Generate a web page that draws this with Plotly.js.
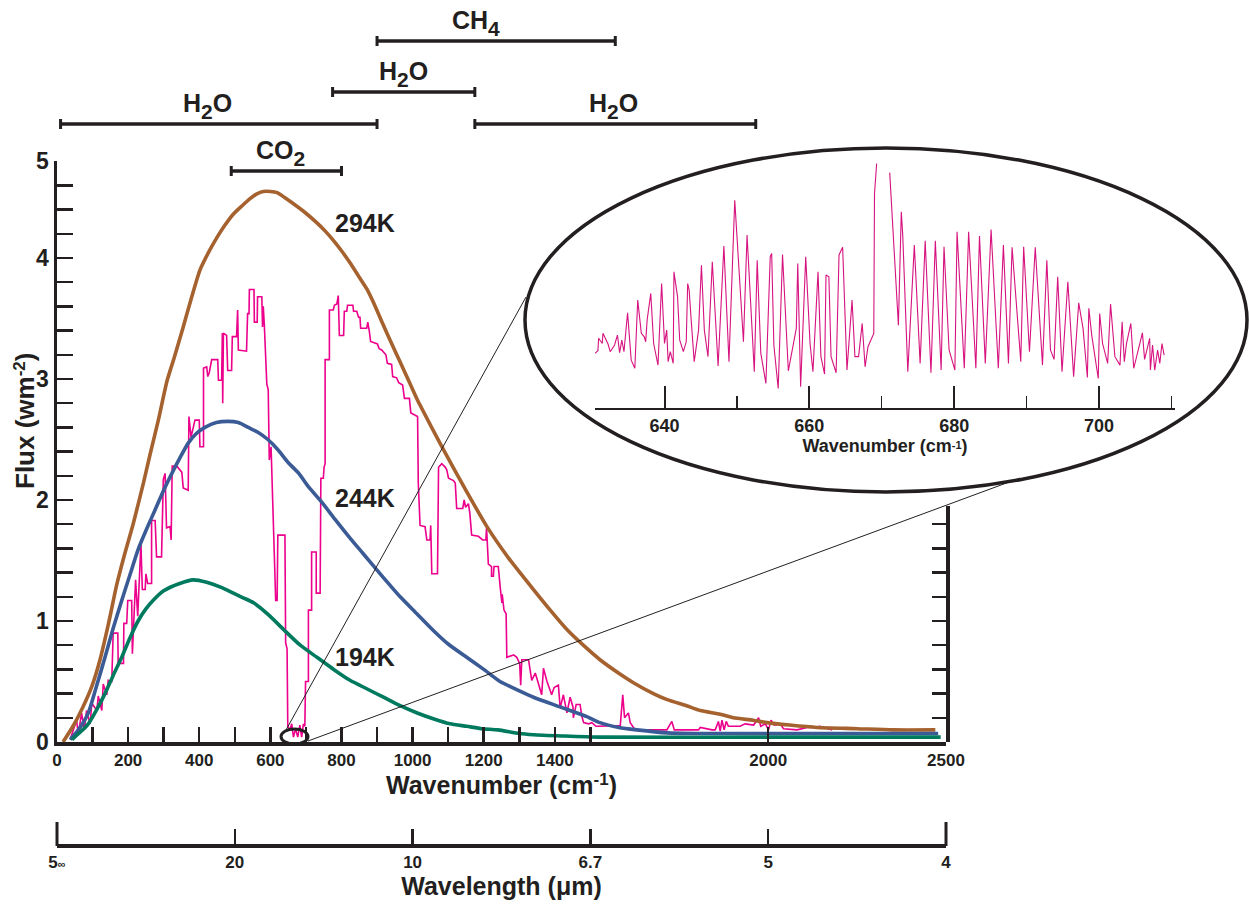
<!DOCTYPE html>
<html>
<head>
<meta charset="utf-8">
<script src="https://cdn.plot.ly/plotly-3.0.1.min.js"></script>
<style>html,body{margin:0;padding:0;background:#fff}#chart{width:1249px;height:905px}</style>
</head>
<body>
<div id="chart"></div>
<script>
// ---------------- DATA ----------------
// Planck curves, flux vs wavenumber (cm-1)
const planck294_wn = [17,45,73,98,121,145,168,190,214,243,262,285,309,330,354,378,402,425,450,472,495,520,543,562,580,600,619,640,664,700,731,755,776,800,824,848,872,895,917,940,965,990,1013,1050,1086,1150,1209,1270,1340,1390,1434,1480,1527,1584,1621,1677,1716,1770,1809,1865,1902,1958,1997,2060,2137,2250,2350,2470];
const planck294_flux = [0,0.13,0.29,0.46,0.68,0.98,1.3,1.55,1.8,2.14,2.38,2.66,2.98,3.18,3.42,3.67,3.9,4.04,4.17,4.27,4.36,4.43,4.49,4.53,4.55,4.55,4.54,4.5,4.45,4.37,4.29,4.22,4.15,4.06,3.96,3.85,3.74,3.6,3.45,3.3,3.14,2.98,2.83,2.62,2.42,2.08,1.78,1.52,1.26,1.08,0.93,0.8,0.68,0.56,0.49,0.4,0.35,0.3,0.26,0.23,0.2,0.18,0.16,0.14,0.12,0.11,0.1,0.1];

const planck244_wn = [37,60,88,110,135,158,182,205,228,252,276,300,323,346,369,392,416,448,481,510,538,565,593,620,650,680,707,745,782,820,860,900,935,965,1012,1059,1100,1152,1200,1246,1302,1340,1415,1490,1527,1580,1631,1716,1800,2000,2200,2478];
const planck244_flux = [0.02,0.1,0.24,0.45,0.70,0.94,1.17,1.38,1.59,1.76,1.92,2.08,2.22,2.35,2.47,2.55,2.6,2.64,2.65,2.64,2.6,2.56,2.5,2.42,2.31,2.22,2.11,1.98,1.84,1.7,1.56,1.42,1.3,1.2,1.06,0.92,0.81,0.7,0.6,0.5,0.42,0.37,0.29,0.21,0.16,0.12,0.1,0.075,0.07,0.07,0.07,0.07];

const planck194_wn = [42,65,88,112,135,158,182,205,228,250,270,300,345,383,421,460,496,525,553,595,637,684,731,778,824,871,918,965,1013,1060,1105,1152,1195,1240,1300,1340,1420,1527,2000,2485];
const planck194_flux = [0.02,0.08,0.15,0.27,0.40,0.55,0.70,0.86,1.0,1.1,1.17,1.25,1.31,1.34,1.32,1.28,1.23,1.19,1.15,1.05,0.93,0.8,0.7,0.6,0.51,0.44,0.37,0.3,0.24,0.19,0.15,0.13,0.11,0.1,0.07,0.06,0.05,0.04,0.04,0.04];

// Measured outgoing spectrum [wavenumber, flux]
const spectrum = [[37,0.02],[55,0.18],[60,0.06],[69,0.24],[77,0.10],[83,0.26],[93,0.15],[98,0.32],[112,0.26],[116,0.38],[126,0.26],[130,0.48],[140,0.39],[144,0.51],[154,0.50],[158,0.90],[171,0.90],[172,0.65],[187,0.65],[188,0.98],[196,0.98],[199,1.17],[210,1.17],[212,0.73],[221,1.34],[227,1.04],[236,1.64],[240,1.26],[248,1.26],[250,1.39],[255,1.31],[266,1.31],[266,1.83],[276,1.83],[280,1.53],[294,1.53],[299,2.17],[304,2.22],[308,1.77],[318,1.78],[321,1.67],[324,2.28],[337,2.28],[351,2.23],[355,2.10],[369,2.08],[371,2.69],[377,2.52],[388,2.66],[400,2.66],[402,2.44],[412,2.44],[412,3.09],[421,3.10],[424,3.02],[428,3.05],[435,3.16],[452,3.16],[454,2.99],[463,2.99],[465,3.38],[466,2.80],[468,3.38],[477,3.36],[480,3.07],[491,3.07],[493,3.35],[505,3.35],[508,3.57],[510,3.24],[533,3.23],[536,3.54],[540,3.54],[541,3.74],[554,3.74],[555,3.47],[563,3.47],[564,3.68],[576,3.68],[578,3.43],[580,3.60],[583,3.45],[590,2.96],[594,2.91],[597,2.33],[602,2.44],[615,1.17],[619,1.17],[621,1.71],[641,1.71],[643,0.82],[647,0.77],[649,0.13],[655,0.10],[660,0.15],[665,0.04],[671,0.11],[677,0.04],[683,0.14],[688,0.04],[693,0.15],[697,0.13],[699,0.50],[707,0.50],[707,1.09],[716,1.09],[716,1.57],[729,1.57],[729,1.23],[740,1.23],[742,2.18],[749,2.18],[751,2.27],[754,2.30],[754,3.16],[766,3.16],[766,3.57],[777,3.57],[780,3.61],[787,3.62],[791,3.69],[794,3.36],[806,3.36],[808,3.56],[815,3.56],[817,3.61],[832,3.61],[834,3.56],[843,3.56],[848,3.51],[852,3.51],[854,3.42],[871,3.42],[874,3.47],[878,3.40],[882,3.31],[901,3.29],[906,3.25],[913,3.24],[925,3.20],[929,3.13],[941,3.12],[944,3.02],[955,3.01],[961,2.97],[972,2.95],[977,2.84],[991,2.84],[995,2.72],[1007,2.70],[1014,2.69],[1016,2.14],[1021,1.79],[1035,1.78],[1040,1.67],[1049,1.67],[1051,1.79],[1054,1.39],[1070,1.39],[1073,2.27],[1082,2.30],[1092,2.27],[1096,2.25],[1101,2.18],[1115,2.16],[1120,2.14],[1124,1.93],[1141,1.93],[1145,2.00],[1149,1.94],[1157,1.97],[1161,1.89],[1166,1.71],[1185,1.70],[1197,1.67],[1206,1.67],[1208,1.77],[1213,1.47],[1222,1.45],[1222,1.37],[1227,1.37],[1229,1.45],[1241,1.45],[1246,1.29],[1251,1.15],[1252,1.22],[1257,1.09],[1263,1.06],[1265,0.70],[1284,0.72],[1293,0.70],[1301,0.65],[1304,0.47],[1307,0.68],[1326,0.68],[1335,0.51],[1345,0.57],[1363,0.39],[1368,0.61],[1378,0.50],[1391,0.39],[1398,0.45],[1410,0.47],[1415,0.28],[1424,0.39],[1434,0.24],[1443,0.37],[1451,0.29],[1452,0.20],[1460,0.31],[1471,0.31],[1476,0.21],[1481,0.16],[1495,0.15],[1504,0.16],[1516,0.13],[1584,0.135],[1591,0.39],[1596,0.20],[1607,0.24],[1612,0.16],[1626,0.10],[1715,0.10],[1729,0.17],[1736,0.10],[1804,0.10],[1809,0.12],[1842,0.10],[1851,0.10],[1860,0.17],[1865,0.09],[1870,0.18],[1876,0.10],[1882,0.17],[1888,0.13],[1921,0.13],[1935,0.15],[1959,0.14],[1973,0.20],[1979,0.13],[1992,0.15],[2001,0.10],[2008,0.18],[2017,0.14],[2034,0.15],[2043,0.11],[2081,0.10],[2109,0.12],[2127,0.12],[2146,0.13],[2170,0.11],[2180,0.10]];

// Inset: high-resolution CO2 band, [wavenumber, relative flux]
const insetSpectrum = [[630.4,0.220],[630.8,0.231],[630.9,0.281],[631.4,0.260],[631.5,0.301],[632.2,0.258],[632.5,0.227],[633.1,0.254],[633.5,0.294],[633.8,0.223],[634.1,0.274],[634.4,0.227],[634.9,0.384],[635.4,0.193],[635.9,0.160],[636.3,0.435],[636.8,0.301],[637.2,0.287],[637.4,0.267],[637.6,0.355],[638.1,0.462],[638.5,0.260],[639.1,0.173],[639.6,0.502],[640.0,0.260],[640.3,0.314],[640.5,0.187],[640.8,0.227],[641.2,0.180],[641.3,0.549],[641.8,0.449],[642.1,0.274],[642.6,0.227],[643.0,0.267],[643.2,0.502],[643.4,0.476],[643.7,0.348],[644.1,0.187],[644.7,0.314],[645.1,0.576],[645.5,0.314],[646.0,0.207],[646.6,0.590],[647.4,0.169],[648.2,0.653],[648.9,0.187],[649.7,0.838],[650.9,0.267],[651.4,0.697],[652.4,0.146],[652.8,0.596],[653.3,0.220],[654.0,0.099],[654.6,0.610],[654.8,0.623],[655.1,0.254],[655.7,0.079],[656.3,0.619],[657.1,0.150],[658.2,0.321],[658.4,0.583],[658.8,0.086],[659.5,0.610],[660.1,0.260],[660.5,0.146],[661.2,0.549],[661.6,0.207],[662.1,0.137],[662.3,0.536],[662.7,0.529],[663.0,0.207],[663.7,0.142],[664.1,0.617],[664.6,0.648],[665.2,0.153],[665.9,0.435],[666.3,0.207],[666.8,0.207],[667.3,0.341],[667.7,0.166],[668.1,0.247],[668.9,0.301],[669.0,0.865],[669.3,0.986],[670.2,null],[671.1,0.949],[672.3,0.334],[672.7,0.791],[672.9,0.697],[673.6,0.146],[674.5,0.657],[675.3,0.180],[676.0,0.674],[676.8,0.142],[677.4,0.674],[678.2,0.153],[678.6,0.650],[679.3,0.234],[680.1,0.153],[680.4,0.711],[681.4,0.160],[682.0,0.711],[683.0,0.160],[683.5,0.693],[684.3,0.180],[685.1,0.720],[686.1,0.160],[686.8,0.657],[687.5,0.180],[688.0,0.648],[689.2,0.187],[689.6,0.650],[690.4,0.227],[691.2,0.648],[692.2,0.173],[692.8,0.596],[693.3,0.234],[693.8,0.196],[694.3,0.529],[694.9,0.146],[695.7,0.509],[696.5,0.126],[697.2,0.424],[697.8,0.321],[698.4,0.123],[698.6,0.402],[699.0,0.294],[699.9,0.119],[700.1,0.381],[700.5,0.260],[701.2,0.180],[701.6,0.419],[702.2,0.207],[702.9,0.173],[703.2,0.348],[703.5,0.187],[703.8,0.260],[704.4,0.341],[704.8,0.160],[706.0,0.303],[706.3,0.196],[707.0,0.281],[707.1,0.153],[707.4,0.254],[707.7,0.153],[708.1,0.234],[708.4,0.180],[708.7,0.260],[709.0,0.213]];

// Absorption bands (wavenumber limits); [main text, subscript digit, trailing text]
const band_formula = [['H','2','O'],['CO','2',''],['H','2','O'],['CH','4',''],['H','2','O']];
const band_start = [10, 490, 775, 900, 1175];
const band_end   = [900, 800, 1175, 1570, 1965];

// Curve labels
const temp_labels = ['294K','244K','194K'];

// Tick labels
const wn_tick_vals = [0,200,400,600,800,1000,1200,1400,2000,2500];
const wn_tick_text = ['0','200','400','600','800','1000','1200','1400','2000','2500'];
const wn_minor_ticks = [100,300,500,700,900,1100,1300,1500];
const flux_tick_vals = [0,1,2,3,4,4.8];
const flux_tick_text = ['0','1','2','3','4','5'];
const flux_minor_ticks = [0.2,0.4,0.6,0.8,1.2,1.4,1.6,1.8,2.2,2.4,2.6,2.8,3.2,3.4,3.6,3.8,4.2,4.4,4.6];
const right_axis_ticks = [0.2,0.4,0.6,0.8,1.0,1.2,1.4,1.6,1.8];
const wavelength_tick_wn   = [0,500,1000,1500,2000,2500];
const wavelength_tick_text = ['5<span style="font-size:11px">∞</span>','20','10','6.7','5','4'];
const inset_tick_vals = [640,660,680,700];
const inset_minor_ticks = [650,670,690,710];

// ---------------- STYLE / LAYOUT ----------------
const W = 1249, H = 905;
const fx = p => p / W;          // pixel -> paper x
const fy = p => 1 - p / H;      // pixel -> paper y
const DARK = '#231F20';
const FONT = '"Liberation Sans", Arial, Helvetica, sans-serif';
const C294 = '#A5612E', C244 = '#3B5B96', C194 = '#007A5E', CSPEC = '#EC008C', CINSET = '#D6137F';
const shifted = (t, size, shift) => '<span style="font-size:' + size + 'px;baseline-shift:' + shift + 'px">' + t + '</span>';

const traces = [
  {type:'scatter', mode:'lines', name:'spectrum', x:spectrum.map(p=>p[0]), y:spectrum.map(p=>p[1]),
   line:{color:CSPEC, width:1.6}, xaxis:'x', yaxis:'y'},
  {type:'scatter', mode:'lines', name:'294K', x:planck294_wn, y:planck294_flux, line:{color:C294, width:3.6, shape:'spline', smoothing:0.6}, xaxis:'x', yaxis:'y'},
  {type:'scatter', mode:'lines', name:'244K', x:planck244_wn, y:planck244_flux, line:{color:C244, width:3.6, shape:'spline', smoothing:0.6}, xaxis:'x', yaxis:'y'},
  {type:'scatter', mode:'lines', name:'194K', x:planck194_wn, y:planck194_flux, line:{color:C194, width:3.6, shape:'spline', smoothing:0.6}, xaxis:'x', yaxis:'y'},
  {type:'scatter', mode:'lines', name:'inset', x:insetSpectrum.map(p=>p[0]), y:insetSpectrum.map(p=>p[1]),
   line:{color:CINSET, width:1.1}, connectgaps:false, xaxis:'x3', yaxis:'y3'},
  // carriers for the wavelength axis and the short right-hand axis
  {type:'scatter', mode:'lines', x:[0,2500], y:[null,null], xaxis:'x2', yaxis:'y', hoverinfo:'skip', showlegend:false},
  {type:'scatter', mode:'lines', x:[null], y:[null], xaxis:'x', yaxis:'y2', hoverinfo:'skip', showlegend:false}
];

const bandRowPx = [124, 171, 92, 41, 124];
const bandLabelShift = [-11, -6, 0, -20, -2];
const shapes = [
  {type:'circle', xref:'paper', yref:'paper', x0:fx(525), x1:fx(1247), y0:fy(492), y1:fy(148),
   line:{color:DARK, width:3.5}, fillcolor:'rgba(255,255,255,0)', layer:'below'},
  {type:'line', xref:'paper', yref:'paper', x0:fx(286), y0:fy(730), x1:fx(526), y1:fy(297), line:{color:DARK, width:1}, layer:'above'},
  {type:'line', xref:'paper', yref:'paper', x0:fx(308), y0:fy(741), x1:fx(1020), y1:fy(478), line:{color:DARK, width:1}, layer:'above'},
  {type:'circle', xref:'paper', yref:'paper', x0:fx(281), x1:fx(308), y0:fy(744), y1:fy(729), line:{color:DARK, width:3}, layer:'above'},
  {type:'line', xref:'paper', yref:'paper', x0:fx(57), x1:fx(57), y0:fy(846), y1:fy(822), line:{color:DARK, width:3}},
  {type:'line', xref:'paper', yref:'paper', x0:fx(946), x1:fx(946), y0:fy(846), y1:fy(822), line:{color:DARK, width:3}}
];
const annotations = [];
band_formula.forEach((f, i) => {
  const yb = bandRowPx[i];
  shapes.push({type:'line', xref:'x', yref:'paper', x0:band_start[i], x1:band_end[i], y0:fy(yb), y1:fy(yb), line:{color:DARK, width:3.5}, layer:'above'});
  shapes.push({type:'line', xref:'x', yref:'paper', x0:band_start[i], x1:band_start[i], y0:fy(yb-5), y1:fy(yb+5), line:{color:DARK, width:3}, layer:'above'});
  shapes.push({type:'line', xref:'x', yref:'paper', x0:band_end[i], x1:band_end[i], y0:fy(yb-5), y1:fy(yb+5), line:{color:DARK, width:3}, layer:'above'});
  annotations.push({xref:'x', yref:'paper', x:(band_start[i]+band_end[i])/2, xshift:bandLabelShift[i], y:fy(yb+1),
    yanchor:'bottom', xanchor:'center', showarrow:false, text:f[0] + shifted(f[1], 21, -7) + f[2],
    font:{family:FONT, size:25, color:DARK, weight:'bold'}});
});
const tempLabelPos = [[866, 4.29], [866, 2.02], [866, 0.70]];
temp_labels.forEach((t, i) => {
  annotations.push({xref:'x', yref:'y', x:tempLabelPos[i][0], y:tempLabelPos[i][1], text:t, showarrow:false,
    xanchor:'center', yanchor:'middle', font:{family:FONT, size:25, color:DARK, weight:'bold'}});
});
// y-axis title (placed where the reference shows it)
annotations.push({xref:'paper', yref:'paper', x:fx(25), y:fy(421), xanchor:'center', yanchor:'middle', textangle:-90,
  showarrow:false, text:'Flux (wm' + shifted('-2', 17, 9) + ')', font:{family:FONT, size:26, color:DARK, weight:'bold'}});

const axisCommon = {showgrid:false, zeroline:false, linecolor:DARK, tickcolor:DARK, automargin:false};

const layout = {
  width:W, height:H,
  margin:{l:0, r:0, t:0, b:0, pad:0},
  paper_bgcolor:'#ffffff', plot_bgcolor:'rgba(0,0,0,0)',
  showlegend:false, hovermode:false,
  font:{family:FONT, color:DARK, size:17, weight:'bold'},
  xaxis:Object.assign({}, axisCommon, {
    domain:[fx(57), fx(946)], range:[0,2500], anchor:'y',
    showline:true, linewidth:4, ticks:'inside', ticklen:15, tickwidth:2.5,
    tickmode:'array', tickvals:wn_tick_vals, ticktext:wn_tick_text,
    minor:{tickmode:'array', tickvals:wn_minor_ticks, ticks:'inside', ticklen:15, tickwidth:2.5, tickcolor:DARK, showgrid:false},
    tickfont:{family:FONT, size:17, color:DARK, weight:'bold'},
    title:{text:'Wavenumber (cm' + shifted('-1', 17, 9) + ')', font:{family:FONT, size:25, color:DARK, weight:'bold'}, standoff:8}
  }),
  yaxis:Object.assign({}, axisCommon, {
    domain:[fy(742), fy(161.2)], range:[0,4.8], anchor:'x',
    showline:true, linewidth:3.5, ticks:'inside', ticklen:16, tickwidth:2.5,
    tickmode:'array', tickvals:flux_tick_vals, ticktext:flux_tick_text,
    minor:{tickmode:'array', tickvals:flux_minor_ticks, ticks:'inside', ticklen:16, tickwidth:2.5, tickcolor:DARK, showgrid:false},
    tickfont:{family:FONT, size:23, color:DARK, weight:'bold'}
  }),
  yaxis2:Object.assign({}, axisCommon, {
    domain:[fy(742), fy(506)], range:[0,1.95], anchor:'x', side:'right',
    showline:true, linewidth:3.5, ticks:'inside', ticklen:14, tickwidth:2.5,
    tickmode:'array', tickvals:right_axis_ticks, showticklabels:false
  }),
  xaxis2:Object.assign({}, axisCommon, {
    domain:[fx(57), fx(946)], range:[0,2500], anchor:'free', position:fy(845),
    showline:true, linewidth:3.5, ticks:'inside', ticklen:15, tickwidth:2.5,
    tickmode:'array', tickvals:wavelength_tick_wn, ticktext:wavelength_tick_text,
    tickfont:{family:FONT, size:17, color:DARK, weight:'bold'},
    title:{text:'Wavelength (μm)', font:{family:FONT, size:25, color:DARK, weight:'bold'}, standoff:6}
  }),
  xaxis3:Object.assign({}, axisCommon, {
    domain:[fx(595), fx(1175)], range:[630.4,710.5], anchor:'y3',
    showline:true, linewidth:2, ticks:'inside', ticklen:22, tickwidth:2,
    tickmode:'array', tickvals:inset_tick_vals,
    minor:{tickmode:'array', tickvals:inset_minor_ticks, ticks:'inside', ticklen:12, tickwidth:1.5, tickcolor:DARK, showgrid:false},
    tickfont:{family:FONT, size:18, color:DARK, weight:'bold'},
    title:{text:'Wavenumber (cm' + shifted('-1', 11, 3) + ')', font:{family:FONT, size:18, color:DARK, weight:'bold'}, standoff:4}
  }),
  yaxis3:Object.assign({}, axisCommon, {
    domain:[fy(408), fy(160)], range:[0,1], anchor:'x3', visible:false
  }),
  shapes:shapes,
  annotations:annotations
};

Plotly.newPlot('chart', traces, layout, {staticPlot:true, displayModeBar:false});
</script>
</body>
</html>
